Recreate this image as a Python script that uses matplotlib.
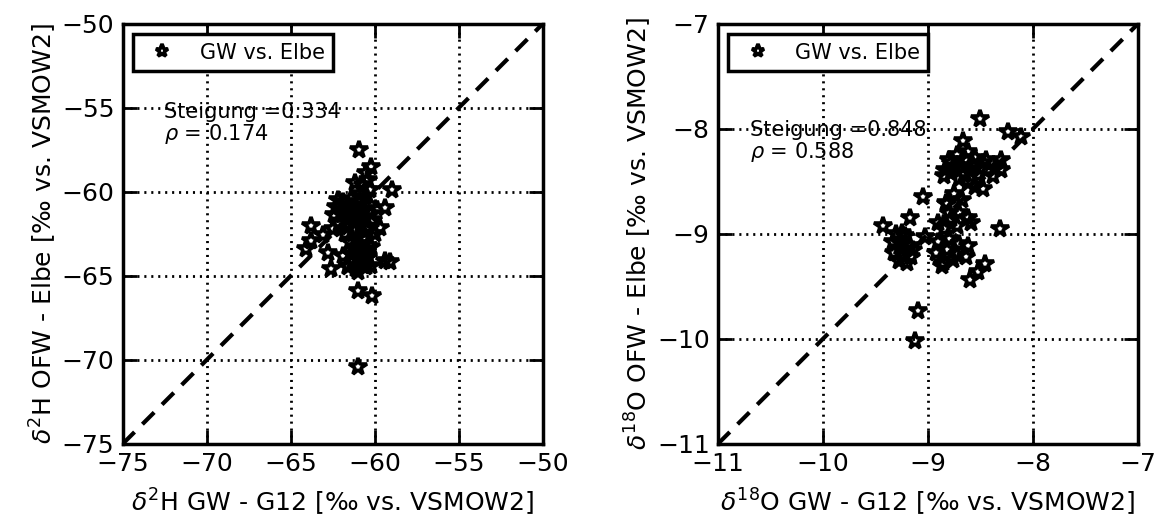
import matplotlib
matplotlib.use("Agg")
import matplotlib.pyplot as plt

plt.rcParams['font.family'] = ['DejaVu Sans']
plt.rcParams['lines.scale_dashes'] = False

# deuterium: GW (G12) vs. surface water (Elbe)
h2_gw = [-60.95, -60.2, -61.19, -59.0, -59.37, -59.7, -63.77, -63.08, -63.77, -64.07,
         -62.78, -62.58, -61.59, -60.99, -60.2, -59.4, -59.1, -60.99, -60.16, -60.99,
         -60.2, -61.9,
         -60.5, -60.4, -60.7, -60.3, -60.9, -60.6,
         -62.3, -62.4, -62.1, -62.5, -61.9, -61.8, -61.7, -61.6, -61.8, -61.4,
         -61.3, -61.2, -61.1, -61.3, -61.0, -60.8, -60.7, -60.6, -60.8, -60.5,
         -60.7, -60.3, -60.2, -60.1, -60.4, -60.0, -62.0, -61.5, -61.0, -60.9,
         -61.6, -62.2,
         -61.5, -61.2, -60.9, -60.6, -61.4, -61.0, -60.7, -60.4, -61.3, -60.8,
         -60.5, -61.6, -61.1, -60.6]
h2_elbe = [-57.52, -58.5, -59.45, -59.92, -60.96, -62.15, -62.05, -62.54, -62.93, -63.43,
           -63.62, -64.6, -64.5, -64.8, -64.4, -64.1, -64.2, -65.9, -66.2, -70.4,
           -63.3, -63.8,
           -58.9, -59.3, -59.6, -59.9, -60.1, -60.3,
           -60.9, -61.4, -61.9, -62.2, -60.6, -61.1, -61.6, -62.1, -62.5, -60.4,
           -60.9, -61.3, -61.8, -62.3, -62.7, -60.6, -61.0, -61.5, -61.9, -62.3,
           -62.8, -60.8, -61.3, -61.7, -62.1, -62.5, -61.3, -61.5, -61.1, -61.4,
           -60.8, -60.5,
           -63.0, -63.3, -63.1, -63.4, -63.7, -63.9, -63.7, -63.9, -64.2, -64.3,
           -64.5, -64.4, -64.6, -64.0]

# oxygen-18: GW (G12) vs. surface water (Elbe)
o18_gw = [-8.508, -8.238, -8.11, -8.667, -8.78, -8.84, -8.30, -8.30, -8.365, -8.38,
          -8.476, -9.048, -8.825, -9.175, -9.43, -8.905, -8.59, -8.317, -9.03, -9.25,
          -8.46, -8.52, -8.60, -9.095, -9.127,
          -8.80, -8.72, -8.62, -8.55, -8.48, -8.78, -8.68, -8.60, -8.52, -8.70,
          -8.62, -8.55, -8.65, -8.58, -8.75, -8.66, -8.50, -8.45, -8.85,
          -8.75, -8.68, -8.82, -8.70, -8.78, -8.62, -8.85, -8.72, -8.80,
          -8.90, -8.80, -8.70, -8.62, -8.92, -8.82, -8.72, -8.64, -8.86, -8.76, -8.87,
          -9.30, -9.22, -9.33, -9.25, -9.17, -9.32, -9.24, -9.16, -9.28, -9.20,
          -9.25, -9.14]
o18_elbe = [-7.905, -8.03, -8.08, -8.117, -8.33, -8.39, -8.30, -8.39, -8.38, -8.45,
            -8.57, -8.65, -8.71, -8.85, -8.93, -8.90, -8.90, -8.95, -9.03, -8.99,
            -9.29, -9.36, -9.44, -9.735, -10.02,
            -8.30, -8.25, -8.22, -8.28, -8.33, -8.42, -8.36, -8.40, -8.44, -8.48,
            -8.52, -8.55, -8.30, -8.35, -8.37, -8.44, -8.38, -8.30, -8.45,
            -8.62, -8.68, -8.72, -8.80, -8.86, -8.85, -8.95, -8.93, -8.80,
            -9.08, -9.05, -9.10, -9.12, -9.18, -9.15, -9.20, -9.22, -9.28, -9.25, -9.31,
            -9.00, -9.02, -9.08, -9.10, -9.12, -9.18, -9.20, -9.22, -9.26, -9.28,
            -9.14, -9.15]

panels = [
    (h2_gw, h2_elbe, (-75, -50), range(-75, -49, 5), 'Steigung =0.334', r'$\rho$ = 0.174',
     (0.098, 0.815), r'$\delta^2$H GW - G12 [‰ vs. VSMOW2]', r'$\delta^2$H OFW - Elbe [‰ vs. VSMOW2]'),
    (o18_gw, o18_elbe, (-11, -7), range(-11, -6), 'Steigung =0.848', r'$\rho$ = 0.588',
     (0.076, 0.77), r'$\delta^{18}$O GW - G12 [‰ vs. VSMOW2]', r'$\delta^{18}$O OFW - Elbe [‰ vs. VSMOW2]'),
]

fig = plt.figure(figsize=(11.58, 5.24), dpi=100)
lefts = [0.106, 0.620]

for left, (x, y, lim, ticks, slope_txt, rho_txt, txt_pos, xlab, ylab) in zip(lefts, panels):
    ax = fig.add_axes([left, 0.153, 0.3627, 0.8015])
    ax.plot(x, y, linestyle='none', marker='*', markersize=13, markerfacecolor='none',
            markeredgecolor='black', markeredgewidth=2.6, label='GW vs. Elbe', zorder=3)
    ax.plot(lim, lim, color='black', linestyle='--', dashes=(12, 8), linewidth=3, zorder=4)
    ax.set_xlim(lim)
    ax.set_ylim(lim)
    ax.set_xticks(list(ticks))
    ax.set_yticks(list(ticks))
    ax.grid(True, color='black', linestyle=(0, (1.5, 3.5)), linewidth=2)
    ax.tick_params(direction='in', length=10, width=2, top=True, right=True,
                   labelsize=18, pad=6)
    for sp in ax.spines.values():
        sp.set_linewidth(2.5)
    ax.set_xlabel(xlab, fontsize=18, labelpad=8)
    ax.set_ylabel(ylab, fontsize=18, labelpad=2)
    ax.text(txt_pos[0], txt_pos[1], slope_txt + '\n' + rho_txt, transform=ax.transAxes,
            fontsize=15, ha='left', va='top', linespacing=1.0, zorder=5)
    leg = ax.legend(loc='upper left', numpoints=1, fontsize=15, fancybox=False,
                    framealpha=1, borderaxespad=0.5, handlelength=2.0, markerscale=0.75)
    leg.get_frame().set_edgecolor('black')
    leg.get_frame().set_linewidth(2.5)

fig.savefig('out.png', dpi=100)
